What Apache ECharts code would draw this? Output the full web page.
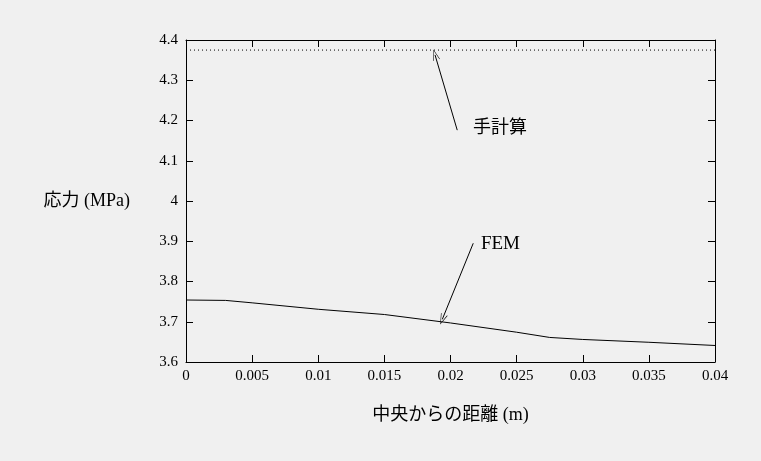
<!DOCTYPE html>
<html><head><meta charset="utf-8">
<script src="https://cdn.jsdelivr.net/npm/echarts@6/dist/echarts.min.js"></script>
<style>html,body{margin:0;padding:0;background:#f0f0f0;}#c{width:761px;height:461px;}</style>
</head><body><div id="c"></div>
<script>
// Data
const femX = [0, 0.003, 0.005, 0.01, 0.015, 0.02, 0.025, 0.0275, 0.03, 0.035, 0.04];
const femY = [3.754, 3.753, 3.747, 3.731, 3.718, 3.697, 3.674, 3.661, 3.656, 3.649, 3.641];
const handX = [0, 0.04];
const handY = [4.375, 4.375];
const labelHand = '手計算';
const labelFem = 'FEM';
const handArrow = {from: [0.02051, 4.176], to: [0.01883, 4.363]};
const femArrow = {from: [0.02172, 3.895], to: [0.01938, 3.706]};
const handLabelPos = [0.0217, 4.181];
const femLabelPos = [0.0223, 3.893];

const serif = '"Liberation Serif", "Noto Sans CJK JP", serif';
const chev = 'path://M0,0 L5,11 L4.3,11.4 L0,1.6 L-4.3,11.4 L-5,11 Z';

const chart = echarts.init(document.getElementById('c'), null, {renderer: 'canvas'});
const axisLine = {show: true, onZero: false, lineStyle: {color: '#000', width: 1}};
const tick = {show: true, inside: true, length: 7, lineStyle: {color: '#000', width: 1}};
chart.setOption({
  backgroundColor: '#f0f0f0',
  animation: false,
  grid: {left: 186, right: 46, top: 40, bottom: 99},
  xAxis: [{
    type: 'value', min: 0, max: 0.04, interval: 0.005,
    axisLine: axisLine, axisTick: tick, splitLine: {show: false},
    axisLabel: {color: '#000', fontFamily: serif, fontSize: 15, margin: 7,
      formatter: v => String(+v.toFixed(4))},
    name: '中央からの距離 (m)', nameLocation: 'middle', nameGap: 44,
    nameTextStyle: {color: '#000', fontFamily: serif, fontSize: 18}
  }, {
    type: 'value', min: 0, max: 0.04, interval: 0.005, position: 'top',
    axisLine: axisLine, axisTick: tick, axisLabel: {show: false}, splitLine: {show: false}
  }],
  yAxis: [{
    type: 'value', min: 3.6, max: 4.4, interval: 0.1, position: 'left',
    axisLine: axisLine, axisTick: tick, splitLine: {show: false},
    axisLabel: {color: '#000', fontFamily: serif, fontSize: 15, margin: 8,
      formatter: v => String(+v.toFixed(2))},
    name: '応力 (MPa)', nameLocation: 'middle', nameRotate: 0, nameGap: 56,
    nameTextStyle: {color: '#000', fontFamily: serif, fontSize: 18, align: 'right'}
  }, {
    type: 'value', min: 3.6, max: 4.4, interval: 0.1, position: 'right',
    axisLine: axisLine, axisTick: tick, axisLabel: {show: false}, splitLine: {show: false}
  }],
  series: [{
    type: 'line', name: labelFem, symbol: 'none',
    data: femX.map((x, i) => [x, femY[i]]),
    lineStyle: {color: '#000', width: 1},
    markLine: {
      silent: true, symbol: ['none', chev], symbolSize: [7, 11],
      label: {show: false},
      lineStyle: {color: '#000', width: 1, type: 'solid'},
      data: [
        [{coord: femArrow.from}, {coord: femArrow.to}],
        [{coord: handArrow.from}, {coord: handArrow.to}]
      ]
    },
    markPoint: {
      silent: true, symbolSize: 0,
      data: [
        {coord: femLabelPos, value: labelFem, label: {fontSize: 19}},
        {coord: handLabelPos, value: labelHand}
      ],
      label: {show: true, position: 'right', distance: 0, color: '#000',
        fontFamily: serif, fontSize: 18, formatter: p => p.value}
    }
  }, {
    type: 'line', name: labelHand, symbol: 'none',
    data: handX.map((x, i) => [x, handY[i]]),
    lineStyle: {color: '#000', width: 1, type: [1, 3]}
  }]
});
</script></body></html>
